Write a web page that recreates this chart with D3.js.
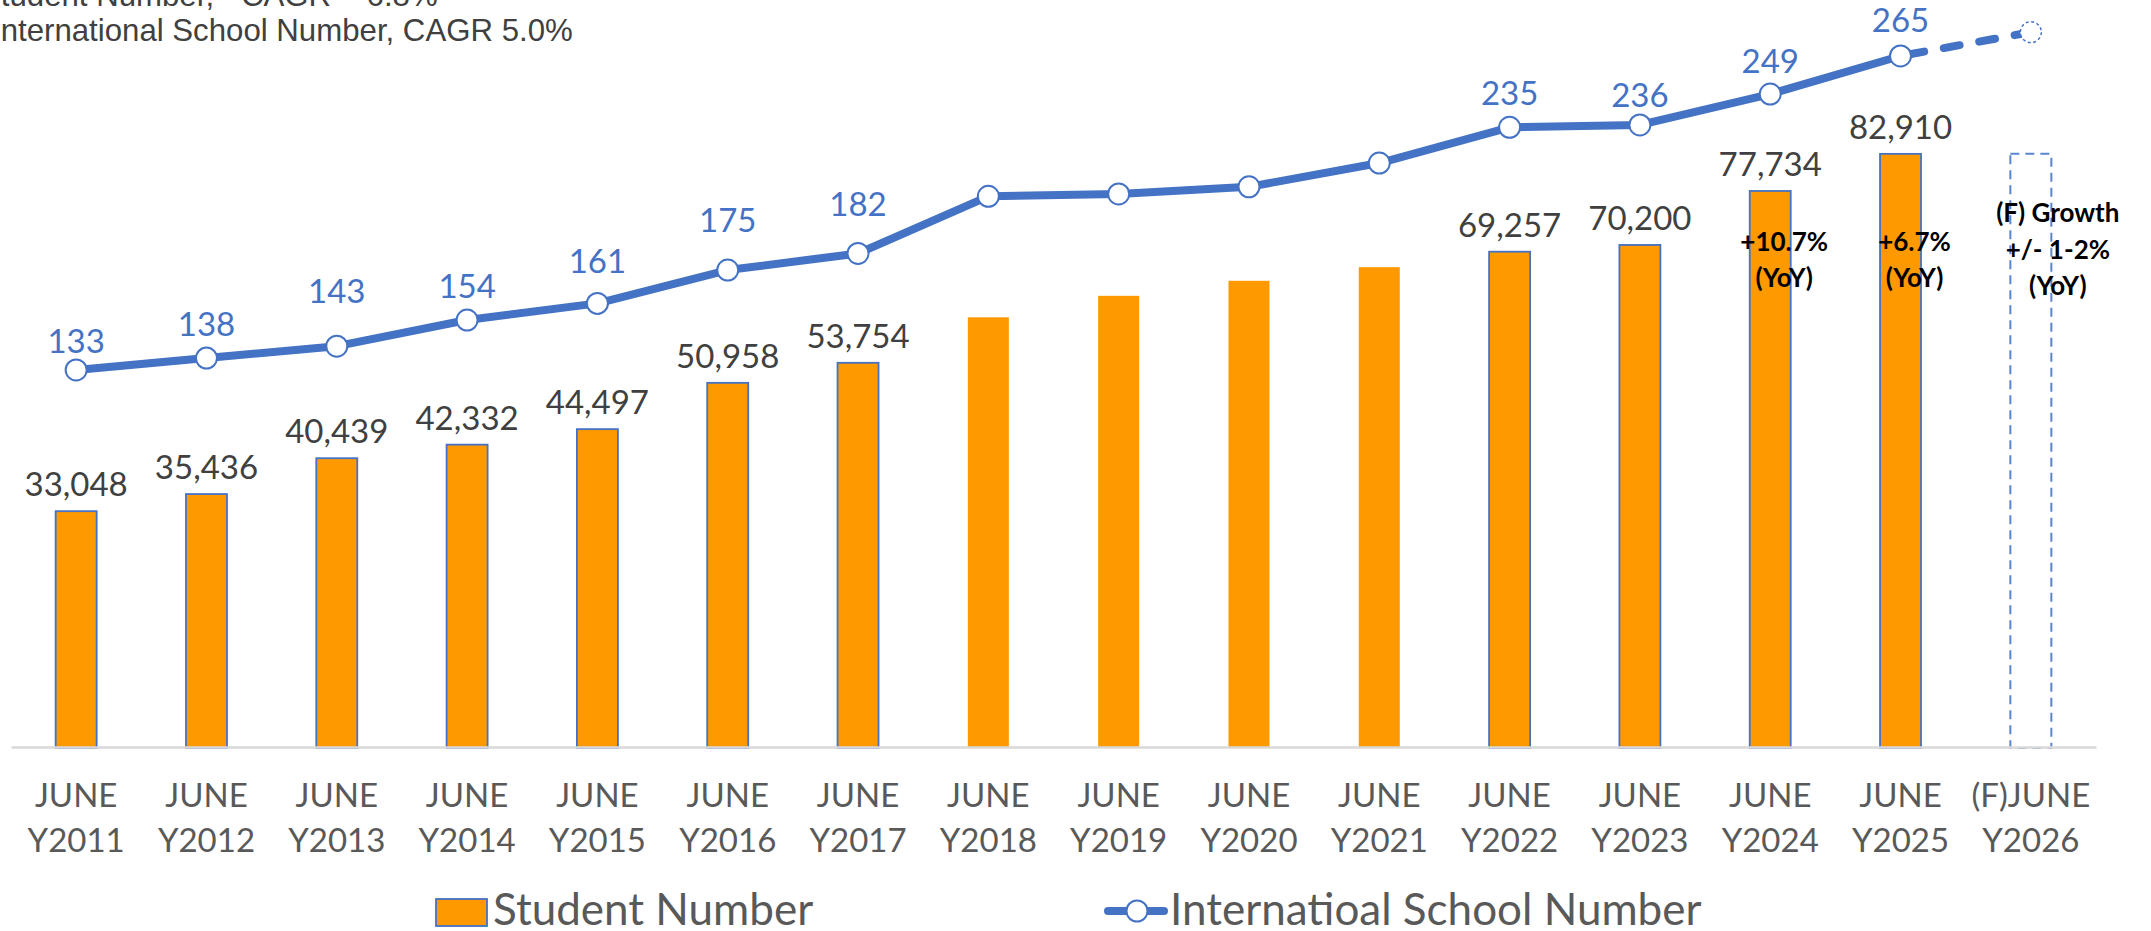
<!DOCTYPE html>
<html><head><meta charset="utf-8">
<script src="https://cdn.jsdelivr.net/npm/d3@7"></script>
<style>html,body{margin:0;padding:0;background:#fff;overflow:hidden;} svg{display:block;}</style>
</head><body>
<svg id="chart" width="2151" height="931"></svg>
<script>
// ---------- data ----------
const years = ["Y2011","Y2012","Y2013","Y2014","Y2015","Y2016","Y2017","Y2018","Y2019","Y2020","Y2021","Y2022","Y2023","Y2024","Y2025","Y2026"];
const monthLabels = ["JUNE","JUNE","JUNE","JUNE","JUNE","JUNE","JUNE","JUNE","JUNE","JUNE","JUNE","JUNE","JUNE","JUNE","JUNE","(F)JUNE"];
const studentNumber = [33048,35436,40439,42332,44497,50958,53754,60100,63100,65200,67100,69257,70200,77734,82910];
const studentForecast = [82910];
const schoolNumber = [133,138,143,154,161,175,182,206,207,210,220,235,236,249,265];
const schoolForecast = [275];
const unlabeledYears = ["Y2018","Y2019","Y2020","Y2021"];
const yoyNotes = [
  {year:"Y2024", lines:["+10.7%","(YoY)"]},
  {year:"Y2025", lines:["+6.7%","(YoY)"]},
  {year:"Y2026", lines:["(F) Growth","+/- 1-2%","(YoY)"]}
];
const titleLines = ["Student Number, ~CAGR ~ 6.8%","International School Number, CAGR 5.0%"];
const legendLabels = ["Student Number","Internatioal School Number"];

// ---------- layout ----------
const BLUE = "#4472C4", ORANGE = "#FF9900", GREY_TXT = "#595959", DARK_TXT = "#404040";
const FONT = "Lato, 'Open Sans', sans-serif";
const schoolLabelDy = [-17,-22,-43,-22,-30,-38,-37,0,0,0,0,-22,-18,-21,-24];

const svg = d3.select("#chart");
svg.append("rect").attr("width",2151).attr("height",931).attr("fill","#fff");

const x = d3.scaleBand().domain(years).range([11, 2096]).padding(0);
const cx = d => x(d) + x.bandwidth() / 2;
const barW = 41;
const y = d3.scaleLinear().domain([0, 100000]).range([748, 748 - 716.6]);
const y2 = d3.scaleLinear().domain([0, 300]).range([686.4, 686.4 - 2.379 * 300]);

const actualYears = years.slice(0, studentNumber.length);
const bars = actualYears.map((yr, i) => ({year: yr, v: studentNumber[i], labeled: !unlabeledYears.includes(yr)}));
const pts = actualYears.map((yr, i) => ({year: yr, v: schoolNumber[i], dy: schoolLabelDy[i], labeled: !unlabeledYears.includes(yr)}));
const fYear = years[years.length - 1];

// title (partly cut off at top)
svg.append("g").selectAll("text").data(titleLines).join("text")
  .attr("x", (d, i) => i === 0 ? -20 : -8)
  .attr("y", (d, i) => i === 0 ? 6 : 41)
  .attr("font-family", "'Liberation Sans', Arial, sans-serif")
  .attr("font-size", 31.2).attr("fill", DARK_TXT).text(d => d);

// bars
svg.append("g").selectAll("rect").data(bars).join("rect")
  .attr("x", d => cx(d.year) - barW / 2)
  .attr("y", d => y(d.v))
  .attr("width", barW)
  .attr("height", d => y(0) - y(d.v))
  .attr("fill", ORANGE)
  .attr("stroke", d => d.labeled ? BLUE : "none")
  .attr("stroke-width", 1.8);

// forecast bar (dashed box)
svg.append("g").selectAll("rect").data(studentForecast).join("rect")
  .attr("x", cx(fYear) - barW / 2)
  .attr("y", d => y(d))
  .attr("width", barW)
  .attr("height", d => y(0) - y(d))
  .attr("fill", "none").attr("stroke", "#5B86CF").attr("stroke-width", 2)
  .attr("stroke-dasharray", "9,6");

// bar value labels
svg.append("g").selectAll("text").data(bars.filter(d => d.labeled)).join("text")
  .attr("x", d => cx(d.year)).attr("y", d => y(d.v) - 15)
  .attr("text-anchor", "middle").attr("font-family", FONT).attr("font-size", 33)
  .attr("fill", DARK_TXT).text(d => d3.format(",")(d.v));

// x axis
const xAxis = svg.append("g").attr("transform", "translate(0,747)")
  .call(d3.axisBottom(x).tickSize(0).tickSizeOuter(0));
xAxis.select(".domain").attr("stroke", "#D9D9D9").attr("stroke-width", 2.5);
xAxis.selectAll(".tick text").each(function(d) {
  const t = d3.select(this);
  t.text(null).attr("y", 0).attr("dy", null)
    .attr("font-family", FONT).attr("font-size", 33).attr("fill", GREY_TXT);
  t.append("tspan").attr("x", 0).attr("y", 60).text(monthLabels[years.indexOf(d)]);
  t.append("tspan").attr("x", 0).attr("y", 105).text(d);
});

// school line
const line = d3.line().x(d => cx(d.year)).y(d => y2(d.v));
svg.append("path").datum(pts).attr("d", line)
  .attr("fill", "none").attr("stroke", BLUE).attr("stroke-width", 8)
  .attr("stroke-linejoin", "round");
const fPts = [pts[pts.length - 1], {year: fYear, v: schoolForecast[0]}];
svg.append("path").datum(fPts).attr("d", line)
  .attr("fill", "none").attr("stroke", BLUE).attr("stroke-width", 8)
  .attr("stroke-linecap", "round").attr("stroke-dasharray", "16,20")
  .attr("stroke-dashoffset", -8);

// markers
svg.append("g").selectAll("circle").data(pts).join("circle")
  .attr("cx", d => cx(d.year)).attr("cy", d => y2(d.v)).attr("r", 10.5)
  .attr("fill", "#fff").attr("stroke", BLUE).attr("stroke-width", 2);
svg.append("circle").attr("cx", cx(fYear)).attr("cy", y2(schoolForecast[0])).attr("r", 10.5)
  .attr("fill", "#fff").attr("stroke", BLUE).attr("stroke-width", 1.5)
  .attr("stroke-dasharray", "3,2.5");

// school labels
svg.append("g").selectAll("text").data(pts.filter(d => d.labeled)).join("text")
  .attr("x", d => cx(d.year)).attr("y", d => y2(d.v) + d.dy)
  .attr("text-anchor", "middle").attr("font-family", FONT).attr("font-size", 33)
  .attr("fill", BLUE).text(d => d.v);

// YoY notes
yoyNotes.forEach(n => {
  const isF = n.year === fYear;
  const t = svg.append("text")
    .attr("text-anchor", "middle").attr("font-family", FONT).attr("font-weight", 700)
    .attr("font-size", 26).attr("fill", "#000");
  n.lines.forEach((s, j) => {
    t.append("tspan").attr("x", cx(n.year) + (isF ? 27 : 14))
      .attr("y", (isF ? 222 : 251) + j * (isF ? 36.5 : 36)).text(s);
  });
});

// legend
const lg = svg.append("g");
lg.append("rect").attr("x", 436).attr("y", 899).attr("width", 51).attr("height", 27)
  .attr("fill", ORANGE).attr("stroke", BLUE).attr("stroke-width", 1.8);
lg.append("text").attr("x", 493).attr("y", 925).attr("font-family", FONT).attr("font-size", 44)
  .attr("fill", GREY_TXT).text(legendLabels[0]);
lg.append("line").attr("x1", 1108).attr("x2", 1164).attr("y1", 911).attr("y2", 911)
  .attr("stroke", BLUE).attr("stroke-width", 8).attr("stroke-linecap", "round");
lg.append("circle").attr("cx", 1137).attr("cy", 911).attr("r", 10.5)
  .attr("fill", "#fff").attr("stroke", BLUE).attr("stroke-width", 2);
lg.append("text").attr("x", 1170).attr("y", 925).attr("font-family", FONT).attr("font-size", 44)
  .attr("fill", GREY_TXT).text(legendLabels[1]);
</script>
</body></html>
